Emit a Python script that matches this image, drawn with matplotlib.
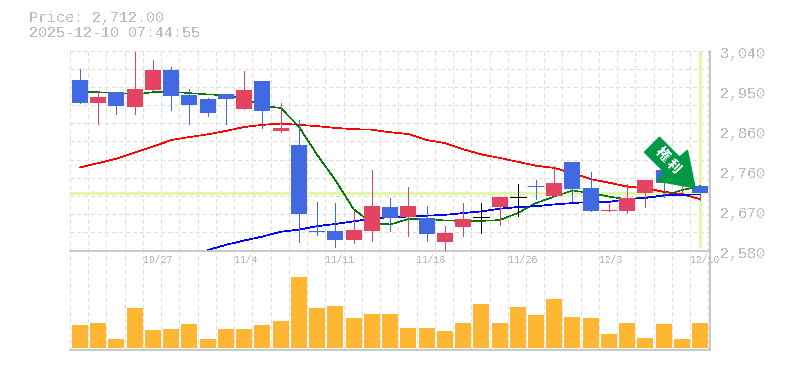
import numpy as np
import matplotlib
matplotlib.use("Agg")
import matplotlib.pyplot as plt
from matplotlib.patches import Polygon
from matplotlib.transforms import IdentityTransform

plt.rcParams["text.antialiased"] = False

opens = [2972, 2919, 2944, 2910, 2949, 2995, 2937, 2928, 2940, 2905, 2970, 2855, 2822, 2626, 2625, 2604, 2625, 2680,
         2657, 2655, 2600, 2634, 2656, 2680, 2702, 2729, 2705, 2784, 2724, 2672, 2671, 2712, 2765, 2733, 2728]
highs = [2997, 2947, 2944, 3036, 3018, 3002, 2951, 2931, 2940, 2993, 2970, 2919, 2880, 2692, 2689, 2671, 2765, 2701,
         2726, 2682, 2636, 2689, 2689, 2703, 2733, 2742, 2774, 2784, 2761, 2687, 2733, 2742, 2765, 2777, 2728]
lows = [2919, 2872, 2894, 2894, 2949, 2903, 2871, 2889, 2871, 2905, 2862, 2852, 2599, 2616, 2588, 2597, 2602, 2625,
        2613, 2602, 2580, 2613, 2620, 2639, 2659, 2698, 2705, 2694, 2671, 2672, 2666, 2680, 2703, 2712, 2696]
closes = [2919, 2933, 2912, 2951, 2995, 2935, 2914, 2896, 2928, 2949, 2901, 2862, 2664, 2623, 2604, 2627, 2682, 2655,
          2682, 2618, 2620, 2652, 2656, 2703, 2702, 2727, 2735, 2721, 2671, 2673, 2701, 2742, 2735, 2777, 2712]

ma_short = [2946, 2944, 2943, 2939, 2944, 2945, 2942, 2939, 2937, 2930, 2912, 2908, 2865, 2800, 2742, 2675, 2643, 2640,
            2652, 2653, 2649, 2648, 2648, 2650, 2666, 2689, 2704, 2718, 2712, 2704, 2698, 2702, 2705, 2719, 2728]
ma_mid = [2771, 2781, 2791, 2805, 2819, 2834, 2841, 2847, 2855, 2864, 2869, 2872, 2869, 2866, 2862, 2859, 2858, 2852,
          2848, 2834, 2827, 2813, 2801, 2793, 2784, 2775, 2770, 2758, 2744, 2736, 2727, 2723, 2715, 2710, 2698]
ma_long = [None, None, None, None, None, None, None, 2581, 2593, 2603, 2612, 2623, 2628, 2636, 2641, 2647, 2653, 2657,
           2658, 2660, 2662, 2666, 2670, 2676, 2680, 2682, 2686, 2689, 2692, 2692, 2698, 2701, 2707, 2708, 2709]

volumes = [69, 75, 27, 120, 54, 57, 72, 27, 57, 57, 69, 81, 213, 120, 126, 90, 102, 102,
           60, 60, 51, 75, 132, 75, 123, 99, 147, 93, 90, 42, 75, 30, 72, 27, 75]

date_idx = [4, 9, 14, 19, 24, 29, 34]
date_labels = ["10/27", "11/4", "11/11", "11/18", "11/26", "12/3", "12/10"]
price_ticks = [3040, 2948, 2856, 2764, 2672, 2580]
price_labels = ["3,040", "2,950", "2,860", "2,760", "2,670", "2,580"]
last_price = 2712

W, H = 785, 370
BLUE = "#4169E1"
RED = "#E34462"
GRID = "#DDDDDD"
AXIS = "#BBBBBB"
TEXT = "#BBBBBB"
HILITE = "#E4F6A9"
MONO = "Liberation Mono"

fig = plt.figure(figsize=(W / 100, H / 100), dpi=100)
ax = fig.add_axes([70 / W, (H - 250.5) / H, 640 / W, 200 / H])
ax_v = fig.add_axes([70 / W, (H - 350) / H, 640 / W, 99.5 / H])

x = np.arange(len(closes))
x_min, x_max = -0.548, 34.54
grid_x = np.arange(36) + x_min
body_w = 16 / 18.24

for a in (ax, ax_v):
    a.set_xlim(x_min, x_max)
    a.patch.set_visible(False)
    for s in a.spines.values():
        s.set_visible(False)
    a.tick_params(length=0)
    a.vlines(grid_x[grid_x < x_max], 0, 1, transform=a.get_xaxis_transform(), color=GRID, lw=0.72,
             linestyles=(0, (4, 4)), zorder=0, antialiased=False)
    a.spines["bottom"].set_visible(True)
    a.spines["bottom"].set_color(AXIS)
    a.spines["bottom"].set_linewidth(1.1)
    a.spines["right"].set_visible(True)
    a.spines["right"].set_color(AXIS)
    a.spines["right"].set_linewidth(1.1)

# price panel
ax.set_ylim(2580, 3040)
ax.hlines(np.linspace(2580, 3040, 12)[1:], x_min, x_max, color=GRID, lw=0.72, linestyles=(0, (4, 4)), zorder=0,
          antialiased=False, clip_on=False)
ax.axhline(last_price, color=HILITE, lw=2.3, zorder=1)
ax.vlines(x[-1], 2585, 3040, color=HILITE, lw=2.3, zorder=1)

long_vals = np.array([np.nan if v is None else v for v in ma_long], dtype=float)
ax.plot(x, ma_mid, color="#FF0000", lw=0.5, zorder=2, antialiased=False)
ax.plot(x, ma_short, color="#007A00", lw=0.4, zorder=2, antialiased=False)
ax.plot(x, long_vals, color="#0000FF", lw=0.5, zorder=2, antialiased=False)

for i in range(len(closes)):
    if closes[i] > opens[i]:
        c = RED
    elif closes[i] < opens[i]:
        c = BLUE
    else:
        c = "black"
    ax.vlines(x[i], lows[i], highs[i], color=c, lw=0.72, zorder=3, antialiased=False)
    if closes[i] == opens[i]:
        ax.hlines(opens[i], x[i] - body_w / 2, x[i] + body_w / 2, color=c, lw=0.72, zorder=3, antialiased=False)
    else:
        ax.bar(x[i], abs(closes[i] - opens[i]), bottom=min(opens[i], closes[i]), width=body_w, color=c, zorder=3)

ax.set_yticks([])
ax.set_xticks(grid_x[date_idx], date_labels, ha="left", family=MONO, fontsize=7, color=TEXT)
ax.tick_params(axis="x", pad=3)

for v, lab in zip(price_ticks, price_labels):
    ax.annotate(lab, xy=(1, v), xycoords=("axes fraction", "data"), xytext=(10, -3.5), textcoords="offset pixels",
                family=MONO, fontsize=10.8, color=TEXT, va="center", ha="left", annotation_clip=False)

# volume panel
ax_v.set_ylim(-6, 292.5)
ax_v.bar(x, volumes, width=body_w, color="#FFB733", zorder=2)
ax_v.set_xticks([])
ax_v.set_yticks([])

fig.text(29 / W, 1 - 18 / H, "Price: 2,712.00", family=MONO, fontsize=10.8, color=TEXT, va="center")
fig.text(29 / W, 1 - 33 / H, "2025-12-10 07:44:55", family=MONO, fontsize=10.8, color=TEXT, va="center")

# marker arrow, hung off the last candle
tip = ax.transData.transform((x[-1], 2724)) + np.array([-5, 0])
arrow_off = np.array([[-35.7, 50.7], [-50.7, 35.7], [-30.7, 15.7], [-38.3, 7], [0, 0], [-7.7, 37.7], [-15.7, 30.7]])
ax.add_patch(Polygon(tip + arrow_off, closed=True, color="#009944", transform=IdentityTransform(), zorder=5,
                     clip_on=False))
for ch, off in zip("権利", [(-33.5, 33.5), (-22, 22)]):
    tx, ty = tip + np.array(off)
    ax.text(tx, ty, ch, transform=IdentityTransform(), family=["Noto Sans CJK JP", "DejaVu Sans"], fontsize=10,
            fontweight="bold", color="white", rotation=-45, rotation_mode="anchor", ha="center", va="center", zorder=6)

fig.savefig("out.png", dpi=100)
